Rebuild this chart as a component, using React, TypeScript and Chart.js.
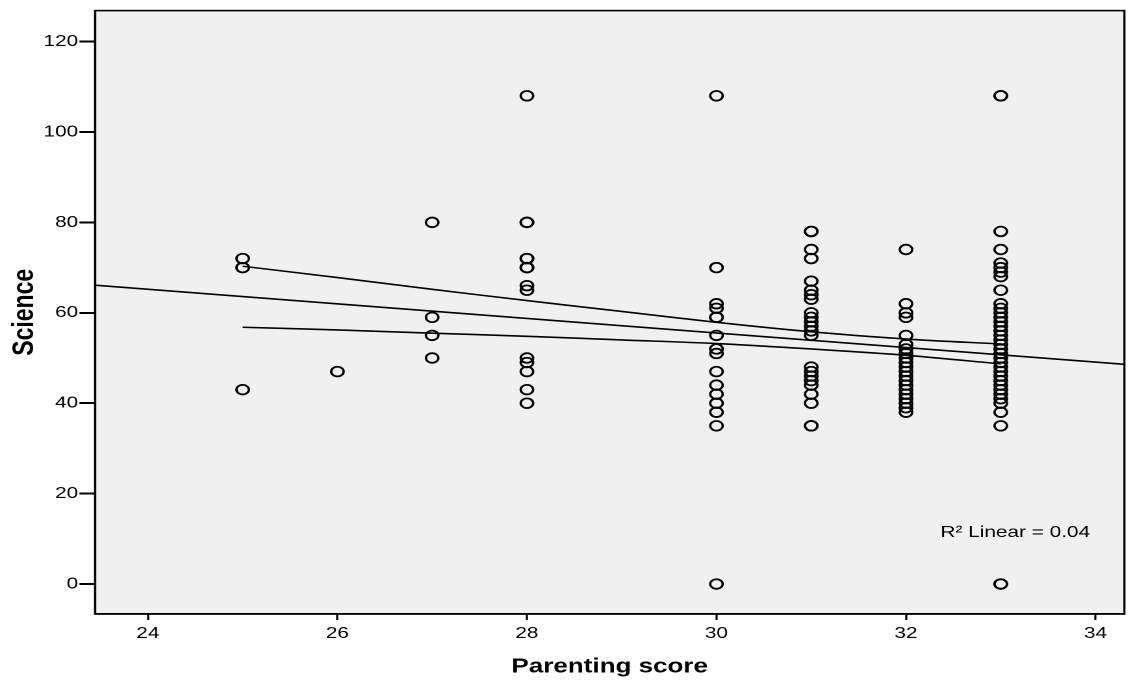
import React, { useEffect, useRef } from 'react';
import { Chart, registerables } from 'chart.js';

Chart.register(...registerables);

// ---- data ----
const parentingLevels = [25, 26, 27, 28, 30, 31, 32, 33];
const scienceAt25 = [72, 70, 43];
const scienceAt26 = [47];
const scienceAt27 = [80, 59, 55, 50];
const scienceAt28 = [108, 80, 80, 72, 72, 70, 70, 66, 65, 50, 49, 47, 43, 40];
const scienceAt30 = [108, 70, 62, 61, 59, 59, 55, 52, 51, 47, 44, 42, 40, 38, 35, 0];
const scienceAt31 = [78, 78, 74, 72, 67, 65, 64, 63, 60, 59, 58, 57, 56, 55, 48, 47, 46, 45, 44, 42, 40, 35, 35];
const scienceAt32 = [74, 62, 60, 59, 55, 53, 52, 51, 50, 49, 48, 47, 46, 45, 44, 43, 42, 41, 40, 39, 38];
const scienceAt33 = [108, 108, 78, 74, 71, 70, 69, 68, 65, 62, 61, 60, 59, 58, 57, 56, 55, 54, 53, 52, 51, 50, 49, 48, 47, 46, 45, 44, 43, 42, 41, 40, 38, 35, 0, 0];
const scienceByLevel = [scienceAt25, scienceAt26, scienceAt27, scienceAt28, scienceAt30, scienceAt31, scienceAt32, scienceAt33];

const fitLineX = [23.442, 34.305];
const fitLineY = [66.1, 48.6];
const ciX = [25, 26, 27, 28, 29, 30, 31, 32, 33];
const ciUpper = [70.3, 67.8, 65.2, 62.7, 60.3, 57.9, 55.8, 54.2, 53.1];
const ciLower = [56.8, 56.2, 55.5, 54.8, 54.0, 53.2, 52.0, 50.6, 48.7];

const xTickValues = [24, 26, 28, 30, 32, 34];
const yTickValues = [0, 20, 40, 60, 80, 100, 120];
const xRange = [23.442, 34.305];
const yRange = [-6.63, 126.85];

const xTitle = 'Parenting score';
const yTitle = 'Science';
const r2Label = 'R\u00B2 Linear = 0.04';

// ---- layout (the reference is horizontally stretched) ----
const PAGE_W = 1133;
const PAGE_H = 684;
const INNER_W = 872;
const STRETCH = PAGE_W / INNER_W;
const FONT = '"Liberation Sans", Arial, Helvetica, sans-serif';

const framePlugin = {
  id: 'frame',
  beforeDraw(chart: any) {
    const { ctx, chartArea: a } = chart;
    ctx.save();
    ctx.fillStyle = '#f0f0f0';
    ctx.fillRect(a.left, a.top, a.right - a.left, a.bottom - a.top);
    ctx.restore();
  },
  afterDatasetsDraw(chart: any) {
    const { ctx, chartArea: a } = chart;
    ctx.save();
    ctx.strokeStyle = '#000';
    ctx.lineWidth = 1.6;
    ctx.strokeRect(a.left, a.top, a.right - a.left, a.bottom - a.top);
    ctx.restore();
  },
  afterDraw(chart: any) {
    const { ctx, chartArea: a } = chart;
    ctx.save();
    ctx.fillStyle = '#000';
    ctx.font = `16px ${FONT}`;
    ctx.textAlign = 'left';
    ctx.textBaseline = 'alphabetic';
    ctx.fillText(r2Label, a.right - 141.6, a.bottom - 77);
    ctx.restore();
  },
};

export default function App() {
  const canvasRef = useRef<HTMLCanvasElement>(null);

  useEffect(() => {
    const points: { x: number; y: number }[] = [];
    parentingLevels.forEach((lv, i) => {
      scienceByLevel[i].forEach((v) => points.push({ x: lv, y: v }));
    });
    const fitData = fitLineX.map((x, i) => ({ x, y: fitLineY[i] }));
    const upperData = ciX.map((x, i) => ({ x, y: ciUpper[i] }));
    const lowerData = ciX.map((x, i) => ({ x, y: ciLower[i] }));

    const lineDs = (data: any) => ({
      type: 'line' as const,
      data,
      showLine: true,
      pointRadius: 0,
      borderColor: '#000',
      borderWidth: 1.6,
      fill: false,
      tension: 0.3,
    });

    const chart = new Chart(canvasRef.current as HTMLCanvasElement, {
      type: 'scatter',
      data: {
        datasets: [
          {
            data: points,
            pointStyle: 'circle',
            pointRadius: 4.8,
            pointBorderWidth: 1.8,
            pointBorderColor: '#000',
            pointBackgroundColor: 'rgba(0,0,0,0)',
            showLine: false,
          } as any,
          lineDs(fitData),
          lineDs(upperData),
          lineDs(lowerData),
        ],
      },
      plugins: [framePlugin],
      options: {
        animation: false,
        responsive: true,
        maintainAspectRatio: false,
        devicePixelRatio: 2,
        layout: { padding: { top: 10, right: 4.6, left: 0, bottom: 0 } },
        plugins: {
          legend: { display: false },
          tooltip: { enabled: false },
        },
        scales: {
          x: {
            type: 'linear',
            min: xRange[0],
            max: xRange[1],
            afterBuildTicks: (s: any) => {
              s.ticks = xTickValues.map((v) => ({ value: v }));
            },
            afterFit: (s: any) => {
              s.height = 70;
            },
            ticks: {
              color: '#000',
              font: { family: FONT, size: 16 },
              padding: 4,
              maxRotation: 0,
              autoSkip: false,
            },
            grid: {
              drawOnChartArea: false,
              drawTicks: true,
              tickLength: 6,
              tickColor: '#000',
              tickWidth: 1.6,
            },
            border: { display: true, color: '#000', width: 1.6 },
            title: {
              display: true,
              text: xTitle,
              color: '#000',
              font: { family: FONT, size: 20, weight: 'bold' },
              padding: { top: 0, bottom: 5 },
            },
          },
          y: {
            type: 'linear',
            min: yRange[0],
            max: yRange[1],
            afterBuildTicks: (s: any) => {
              s.ticks = yTickValues.map((v) => ({ value: v }));
            },
            afterFit: (s: any) => {
              s.width = 95 / STRETCH;
            },
            ticks: {
              color: '#000',
              font: { family: FONT, size: 16 },
              padding: 1,
              autoSkip: false,
            },
            grid: {
              drawOnChartArea: false,
              drawTicks: true,
              tickLength: 12,
              tickColor: '#000',
              tickWidth: 2,
            },
            border: { display: true, color: '#000', width: 1.6 },
            title: {
              display: true,
              text: yTitle,
              color: '#000',
              font: { family: FONT, size: 23, weight: 'bold' },
              padding: { top: 5.5, bottom: 0 },
            },
          },
        },
      } as any,
    });
    return () => chart.destroy();
  }, []);

  return (
    <div
      style={{
        position: 'fixed',
        left: 0,
        top: 0,
        width: PAGE_W,
        height: PAGE_H,
        background: '#fff',
        overflow: 'hidden',
      }}
    >
      <div
        style={{
          position: 'absolute',
          left: 0,
          top: 0,
          width: INNER_W,
          height: PAGE_H,
          transform: `scaleX(${STRETCH})`,
          transformOrigin: '0 0',
        }}
      >
        <canvas ref={canvasRef} />
      </div>
    </div>
  );
}
